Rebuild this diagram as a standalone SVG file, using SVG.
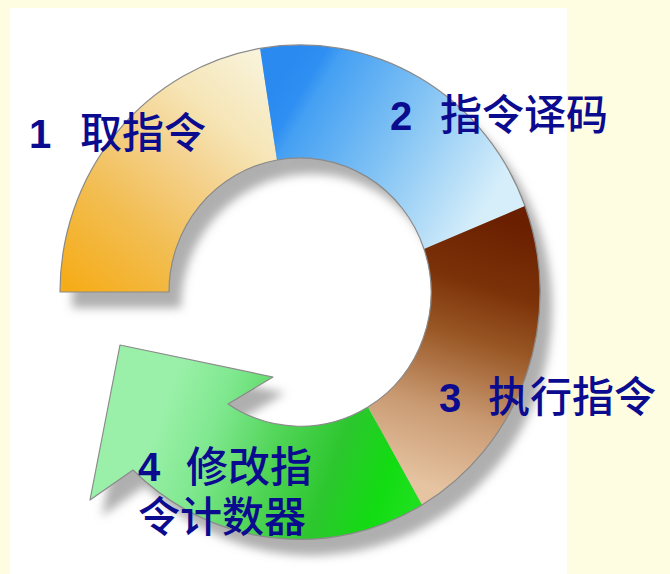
<svg xmlns="http://www.w3.org/2000/svg" xmlns:xlink="http://www.w3.org/1999/xlink" width="670" height="574" viewBox="0 0 670 574">
  <style>
    .edge { fill: none; stroke: #8a8a8a; stroke-width: 1.2; stroke-linejoin: round; }
    .label { fill: #0b0b8f; font-family: "Noto Sans CJK SC", "Noto Sans CJK TC", sans-serif; font-size: 42px; font-weight: 500; }
    .num { font-family: "Liberation Sans", Arial, sans-serif; font-weight: bold; font-size: 40px; }
  </style>
  <defs>
    <!-- soft grey shadow cast down and to the right of the ring -->
    <filter id="castShadow" x="-20%" y="-20%" width="140%" height="140%">
      <feFlood flood-color="#7a7a7a" flood-opacity="0.6"/>
      <feComposite in2="SourceAlpha" operator="in"/>
      <feGaussianBlur stdDeviation="5"/>
      <feOffset dx="12" dy="16"/>
    </filter>
    <linearGradient id="gFetch" gradientUnits="userSpaceOnUse" x1="265" y1="60" x2="70" y2="290">
      <stop offset="0" stop-color="#f8f3da"/>
      <stop offset="0.25" stop-color="#f6e5b6"/>
      <stop offset="0.45" stop-color="#f4d08a"/>
      <stop offset="0.7" stop-color="#f2bd50"/>
      <stop offset="1" stop-color="#f6ac18"/>
    </linearGradient>
    <linearGradient id="gDecode" gradientUnits="userSpaceOnUse" x1="262" y1="110" x2="470" y2="235">
      <stop offset="0" stop-color="#2a8af0"/>
      <stop offset="0.1" stop-color="#2f8ff2"/>
      <stop offset="0.16" stop-color="#45a0f3"/>
      <stop offset="0.55" stop-color="#84c4f4"/>
      <stop offset="1" stop-color="#d6eefa"/>
    </linearGradient>
    <linearGradient id="gExec" gradientUnits="userSpaceOnUse" x1="485" y1="215" x2="405" y2="480">
      <stop offset="0" stop-color="#6a2000"/>
      <stop offset="0.25" stop-color="#7c3208"/>
      <stop offset="0.45" stop-color="#9a5826"/>
      <stop offset="0.72" stop-color="#c99a72"/>
      <stop offset="1" stop-color="#e6c4a2"/>
    </linearGradient>
    <linearGradient id="gUpdate" gradientUnits="userSpaceOnUse" x1="420" y1="480" x2="170" y2="390">
      <stop offset="0" stop-color="#1ee01e"/>
      <stop offset="0.12" stop-color="#12dc12"/>
      <stop offset="0.32" stop-color="#2cc62e"/>
      <stop offset="0.55" stop-color="#50d456"/>
      <stop offset="0.8" stop-color="#80e890"/>
      <stop offset="1" stop-color="#9af0a8"/>
    </linearGradient>
  </defs>

  <!-- page and white panel -->
  <rect width="670" height="574" fill="#fffde1"/>
  <rect x="10" y="8" width="557" height="566" fill="#ffffff"/>

  <!-- shadow of the whole ring -->
  <g id="ring-shadow" filter="url(#castShadow)">
    <use xlink:href="#fetch-shape"/>
    <use xlink:href="#decode-shape"/>
    <use xlink:href="#exec-shape"/>
    <use xlink:href="#update-shape"/>
  </g>

  <g id="connectors"/>

  <!-- 1: fetch -->
  <g id="node-fetch">
    <path id="fetch-shape" fill="url(#gFetch)" d="M60,292 A240,247 0 0 1 260,48.4 L277,160 A131,134 0 0 0 169,292 Z"/>
    <path class="edge" d="M260,48.4 A240,247 0 0 0 60,292 L169,292 A131,134 0 0 1 277,160"/>
    <text class="label" y="148"><tspan class="num" x="29">1</tspan><tspan x="80">取指令</tspan></text>
  </g>

  <!-- 2: decode -->
  <g id="node-decode">
    <path id="decode-shape" fill="url(#gDecode)" d="M260,48.4 A240,247 0 0 1 525,206 L424,249 A131,134 0 0 0 277,160 Z"/>
    <path class="edge" d="M260,48.4 A240,247 0 0 1 525,206 M424,249 A131,134 0 0 0 277,160"/>
    <text class="label" y="130"><tspan class="num" x="390">2</tspan><tspan x="440">指令译码</tspan></text>
  </g>

  <!-- 3: execute -->
  <g id="node-exec">
    <path id="exec-shape" fill="url(#gExec)" d="M525,206 A240,247 0 0 1 422,505 L368,407 A131,134 0 0 0 424,249 Z"/>
    <path class="edge" d="M525,206 A240,247 0 0 1 422,505 M368,407 A131,134 0 0 0 424,249"/>
    <text class="label" y="412"><tspan class="num" x="439">3</tspan><tspan x="488">执行指令</tspan></text>
  </g>

  <!-- 4: update program counter (arrow back to the start) -->
  <g id="node-update">
    <path id="update-shape" fill="url(#gUpdate)" d="M422,505 A240,247 0 0 1 133,470 L90,500 L120,345 L273,377 L228,404 A131,134 0 0 0 368,407 Z"/>
    <path class="edge" d="M422,505 A240,247 0 0 1 133,470 L90,500 L120,345 L273,377 L228,404 A131,134 0 0 0 368,407"/>
    <text class="label"><tspan class="num" x="138" y="481">4</tspan><tspan x="186" y="482">修改指</tspan><tspan x="138" y="532">令计数器</tspan></text>
  </g>
</svg>
